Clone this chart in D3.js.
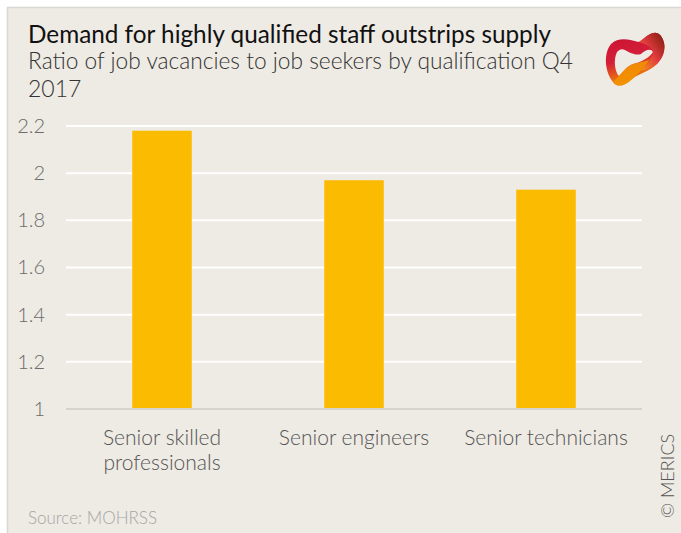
<!DOCTYPE html>
<html>
<head>
<meta charset="utf-8">
<script src="https://cdn.jsdelivr.net/npm/d3@7"></script>
<style>
  body { margin: 0; background: #fff; }
  svg { display: block; }
  .lbl { font-family: Lato, Roboto, sans-serif; font-weight: 300; }
  .ttl { font-family: Lato, Roboto, sans-serif; font-weight: 400; }
</style>
</head>
<body>
<div id="chart"></div>
<script>
// data
const categories = ["Senior skilled professionals", "Senior engineers", "Senior technicians"];
const categoryLines = [["Senior skilled", "professionals"], ["Senior engineers"], ["Senior technicians"]];
const ratios = [2.18, 1.97, 1.93];
const yTicks = [1, 1.2, 1.4, 1.6, 1.8, 2, 2.2];

const W = 681, H = 533;
const PLOT = { LEFT: 66, RIGHT: 642, TOP: 126, BOTTOM: 409 };

const svg = d3.select("#chart").append("svg")
  .attr("width", W)
  .attr("height", H);

// panel background + border
svg.append("rect")
  .attr("x", 7.5).attr("y", 7.5)
  .attr("width", W).attr("height", H)
  .attr("fill", "#eeeae4")
  .attr("stroke", "#d9d7d3")
  .attr("stroke-width", 1.5);

// scales
const x = d3.scaleBand()
  .domain(categories)
  .range([PLOT.LEFT, PLOT.RIGHT])
  .paddingInner(0.69)
  .paddingOuter(0.345);

const y = d3.scaleLinear()
  .domain([1, 2.2])
  .range([PLOT.BOTTOM, PLOT.TOP]);

// gridlines
svg.append("g").selectAll("line")
  .data(yTicks.filter(d => d > 1))
  .join("line")
  .attr("x1", PLOT.LEFT).attr("x2", PLOT.RIGHT)
  .attr("y1", d => y(d)).attr("y2", d => y(d))
  .attr("stroke", "#ffffff")
  .attr("stroke-width", 2);

// y axis labels
const yAxis = svg.append("g")
  .attr("transform", `translate(${PLOT.LEFT},0)`)
  .call(d3.axisLeft(y).tickValues(yTicks).tickSize(0).tickPadding(21).tickFormat(d3.format("~g")));
yAxis.select(".domain").remove();
yAxis.selectAll("text")
  .attr("fill", "#6b6b6b")
  .style("font-size", "20px")
  .style("font-family", "Lato, Roboto, sans-serif")
  .style("font-weight", 300);

// bars
svg.append("g").selectAll("rect")
  .data(categories)
  .join("rect")
  .attr("x", d => x(d))
  .attr("width", x.bandwidth())
  .attr("y", (d, i) => y(ratios[i]))
  .attr("height", (d, i) => y(1) - y(ratios[i]))
  .attr("fill", "#fbbb00");

// baseline
svg.append("line")
  .attr("x1", PLOT.LEFT).attr("x2", PLOT.RIGHT)
  .attr("y1", y(1)).attr("y2", y(1))
  .attr("stroke", "#d6d3cf")
  .attr("stroke-width", 2);

// category labels
const catG = svg.append("g").selectAll("text")
  .data(categories)
  .join("text")
  .attr("class", "lbl")
  .attr("x", d => x(d) + x.bandwidth() / 2)
  .attr("y", 445)
  .attr("text-anchor", "middle")
  .attr("fill", "#555")
  .style("font-size", "21px");
catG.selectAll("tspan")
  .data((d, i) => categoryLines[i])
  .join("tspan")
  .attr("x", function () { return this.parentNode.getAttribute("x"); })
  .attr("dy", (d, i) => i === 0 ? 0 : 25)
  .text(d => d);

// titles
svg.append("text")
  .attr("class", "ttl")
  .attr("x", 28).attr("y", 43)
  .attr("fill", "#111")
  .attr("textLength", 523).attr("lengthAdjust", "spacingAndGlyphs")
  .style("font-size", "25px")
  .text("Demand for highly qualified staff outstrips supply");

svg.append("text")
  .attr("class", "lbl")
  .attr("x", 28).attr("y", 69)
  .attr("fill", "#333")
  .attr("textLength", 545).attr("lengthAdjust", "spacingAndGlyphs")
  .style("font-size", "23px")
  .text("Ratio of job vacancies to job seekers by qualification Q4");

svg.append("text")
  .attr("class", "lbl")
  .attr("x", 28).attr("y", 97)
  .attr("fill", "#333")
  .style("font-size", "23px")
  .text("2017");

// source
svg.append("text")
  .attr("class", "lbl")
  .attr("x", 28).attr("y", 524)
  .attr("fill", "#a5a5a5")
  .style("font-size", "17px")
  .text("Source: MOHRSS");

// copyright
svg.append("text")
  .attr("class", "lbl")
  .attr("transform", "translate(674,518) rotate(-90)")
  .attr("fill", "#555")
  .style("font-size", "18px")
  .text("\u00A9 MERICS");

// logo
const defs = svg.append("defs");
const g1 = defs.append("linearGradient").attr("id", "lg1")
  .attr("x1", "0").attr("y1", "0").attr("x2", "0.3").attr("y2", "1");
g1.append("stop").attr("offset", "0").attr("stop-color", "#c8102e");
g1.append("stop").attr("offset", "0.55").attr("stop-color", "#d41f3a");
g1.append("stop").attr("offset", "1").attr("stop-color", "#f39200");
const g2 = defs.append("linearGradient").attr("id", "lg2")
  .attr("x1", "1").attr("y1", "0").attr("x2", "0").attr("y2", "1");
g2.append("stop").attr("offset", "0").attr("stop-color", "#7a1a0a");
g2.append("stop").attr("offset", "0.5").attr("stop-color", "#e03a3e");
g2.append("stop").attr("offset", "1").attr("stop-color", "#f7a21b");

const logo = svg.append("g").attr("transform", "translate(603,30)");
logo.append("path")
  .attr("d", "M8,14 C16,6 28,10 36,12 C44,6 52,-2 58,6 C64,14 62,26 54,34 C46,42 34,44 28,50 C22,56 14,58 10,52 C2,42 0,24 8,14 Z M14,22 C10,30 12,42 16,46 C20,42 24,36 30,34 C38,32 46,28 50,22 C48,18 42,20 38,24 C32,26 26,22 22,20 C18,18 16,20 14,22 Z")
  .attr("fill", "url(#lg1)")
  .attr("fill-rule", "evenodd");
logo.append("path")
  .attr("d", "M36,12 C44,6 52,-2 58,6 C64,14 62,26 54,34 C50,37 44,39 38,41 C44,34 50,28 50,22 C48,16 42,14 36,12 Z")
  .attr("fill", "url(#lg2)");
logo.append("path")
  .attr("d", "M16,46 C20,42 24,36 30,34 C36,33 42,31 46,30 C42,38 34,44 28,50 C22,56 14,58 10,52 C12,50 14,48 16,46 Z")
  .attr("fill", "#f39200")
  .attr("opacity", 0.9);
</script>
</body>
</html>
